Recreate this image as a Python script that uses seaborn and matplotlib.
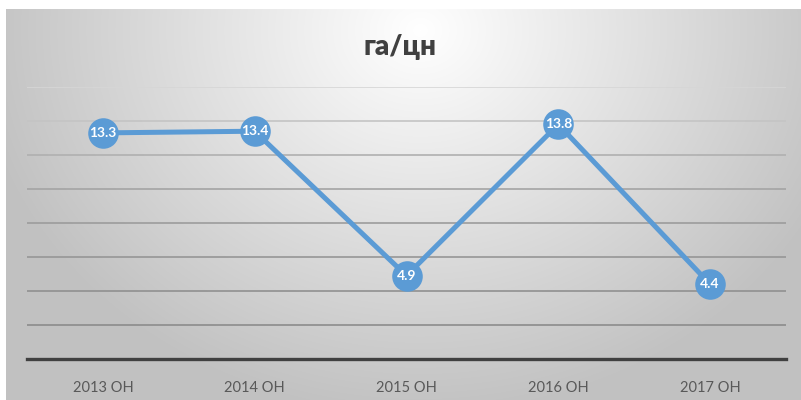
import numpy as np
import pandas as pd
import matplotlib
matplotlib.use("Agg")
import matplotlib.pyplot as plt
import seaborn as sns

categories = ["2013 ОН", "2014 ОН", "2015 ОН", "2016 ОН", "2017 ОН"]
values = [13.3, 13.4, 4.9, 13.8, 4.4]
title = "га/цн"

sns.set_style("white")
plt.rcParams['font.family'] = ['Lato', 'DejaVu Sans']

fig = plt.figure(figsize=(8.01, 4.0), dpi=100)

# background radial gradient
bg = fig.add_axes([0, 0, 1, 1], zorder=0)
W, H = 801, 400
xx, yy = np.meshgrid(np.arange(W), np.arange(H))
cx, cy = 420, 30
d = np.sqrt(((xx - cx) / 500.0) ** 2 + ((yy - cy) / 430.0) ** 2)
g = np.clip(1.0 - 0.27 * d, 0.76, 1.0)
img = np.dstack([g, g, g])
img[:9, :, :] = 1.0
img[:, :6, :] = 1.0
bg.imshow(img, aspect='auto', extent=[0, 1, 0, 1], origin='upper')
bg.axis('off')

ax = fig.add_axes([27 / 801, 1 - 359 / 400, (786 - 27) / 801, (359 - 87) / 400], zorder=1)
ax.patch.set_alpha(0)

df = pd.DataFrame({"cat": categories, "val": values})
sns.lineplot(data=df, x="cat", y="val", ax=ax, color="#5B9BD5", linewidth=3.6,
             marker="o", markersize=22, markeredgewidth=0, sort=False, zorder=3)

for i, v in enumerate(values):
    ax.text(i, v, f"{v}", ha="center", va="center", color="white",
            fontsize=10, fontweight="bold", zorder=4)

ax.set_xlim(-0.5, len(categories) - 0.5)
ax.set_ylim(0, 16)
ax.set_yticks(np.arange(0, 17, 2))
grid_vals = np.arange(2, 17, 2)
grid_cols = ["#8c8c8c", "#909090", "#969696", "#9c9c9c", "#a4a4a4", "#b0b0b0", "#c4c4c4", "#d6d6d6"]
for gv, gc in zip(grid_vals, grid_cols):
    ax.axhline(gv, color=gc, linewidth=1.2, zorder=1)
ax.tick_params(axis='y', left=False, labelleft=False)
ax.tick_params(axis='x', bottom=False, labelsize=10.5, labelcolor="#595959", pad=12)
ax.set_xlabel("")
ax.set_ylabel("")
for s in ["top", "right", "left"]:
    ax.spines[s].set_visible(False)
ax.spines["bottom"].set_color("#404040")
ax.spines["bottom"].set_linewidth(2.4)

fig.text(400 / 801, 1 - 47 / 400, title, ha="center", va="center",
         fontsize=20, fontweight="heavy", color="#404040")

fig.savefig("out.png", dpi=100)
